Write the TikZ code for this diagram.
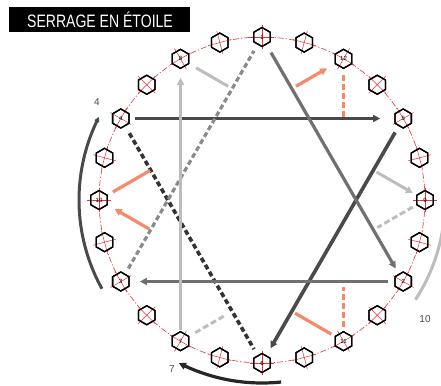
\documentclass[tikz,border=0pt]{standalone}
\usepackage{fontspec}
\setmainfont{Liberation Sans}
\usetikzlibrary{shapes.geometric,arrows.meta,calc}
\definecolor{boltred}{HTML}{E8303A}
\definecolor{darkln}{HTML}{4A4A4A}
\definecolor{darkdsh}{HTML}{333333}
\definecolor{midln}{HTML}{707070}
\definecolor{middsh}{HTML}{8A8A8A}
\definecolor{lightln}{HTML}{BDBDBD}
\definecolor{salmon}{HTML}{F48A6C}
\tikzset{
  bolt/.style={regular polygon, regular polygon sides=6, shape border rotate=30,
    minimum size=19pt, inner sep=0pt, draw=black, line width=1.3pt, fill=white,
    font=\fontsize{6}{6}\selectfont},
  tip/.style={-{Triangle[length=7pt,width=7pt]}},
  darkarrow/.style={darkln, line width=3.6pt, tip},
  darkdash/.style={darkdsh, line width=3.6pt, dash pattern=on 5pt off 3pt},
  midarrow/.style={midln, line width=3.2pt, tip},
  middash/.style={middsh, line width=3.2pt, dash pattern=on 5pt off 3pt},
  lightarrow/.style={lightln, line width=3pt},
  lightdash/.style={lightln, line width=3pt, dash pattern=on 6pt off 3pt},
  salmonline/.style={salmon, line width=3.2pt},
  salmondash/.style={salmon, line width=3.2pt, dash pattern=on 6pt off 3pt},
  arclabel/.style={text=darkln, font=\fontsize{10}{10}\selectfont, inner sep=0pt},
}
\begin{document}
\begin{tikzpicture}[x=1pt,y=-1pt]
\useasboundingbox (0,0) rectangle (441,385);
% title
\node[fill=black, minimum width=181pt, minimum height=25pt, inner sep=0pt, anchor=north west] (title) at (9,7) {};
\node[text=white, anchor=base, inner sep=0pt] (titletext) at (100,28) {\scalebox{0.78}[1]{\fontsize{18}{18}\selectfont SERRAGE EN ÉTOILE}};
% bolt circle
\draw[boltred, line width=0.6pt, dash pattern=on 6pt off 2pt on 1.2pt off 2pt] (262,200) circle[radius=163];
% bolt coordinates
\foreach \a in {0,15,...,345} {
  \coordinate (c\a) at ({262+163*cos(\a)},{200-163*sin(\a)});
}
% outer arcs
\draw[darkln, line width=3pt, -{Triangle[length=5pt,width=5pt]}] plot[domain=209:153, samples=40] ({262+183*cos(\x)},{200-183*sin(\x)});
\draw[black!85, line width=3.2pt, -{Triangle[length=7pt,width=7pt]}] plot[domain=276:243, samples=40] ({262+183*cos(\x)},{200-183*sin(\x)});
\draw[lightln, line width=3pt] plot[domain=-7:-33, samples=40] ({262+183*cos(\x)},{200-183*sin(\x)});
\node[arclabel] (lab4) at (97,102) {4};
\node[arclabel] (lab7) at (172,369) {7};
\node[arclabel] (lab10) at (425,319) {10};
% bolts (nodes)
\foreach \a in {15,45,...,345} {
  \node[bolt] (b\a) at (c\a) {};
}
\foreach \a/\n in {90/1,60/12,30/5,0/9,330/2,300/11,270/6,240/7,210/3,180/10,150/4,120/8} {
  \node[bolt] (b\a) at (c\a) {};
}
% connectors: dark triangle (4-5-6)
\draw[darkarrow] ($(b150.center)!14pt!(b30.center)$) -- ($(b30.center)!23pt!(b150.center)$);
\draw[darkarrow] ($(b30.center)!16pt!(b270.center)$) -- ($(b270.center)!17pt!(b30.center)$);
\draw[darkdash] ($(b150.center)!17pt!(b270.center)$) -- ($(b270.center)!16pt!(b150.center)$);
% mid triangle (1-2-3)
\draw[midarrow] ($(b90.center)!18pt!(b330.center)$) -- ($(b330.center)!15pt!(b90.center)$);
\draw[midarrow] ($(b330.center)!15pt!(b210.center)$) -- ($(b210.center)!19pt!(b330.center)$);
\draw[middash] ($(b210.center)!15pt!(b90.center)$) -- ($(b90.center)!16pt!(b210.center)$);
% light triangle (7-8-9)
\draw[lightarrow, tip] ($(b240.center)!11pt!(b120.center)$) -- ($(b120.center)!19pt!(b240.center)$);
\draw[lightarrow] ($(b120.center)!18pt!(b0.center)$) -- ($(b120.center)!55pt!(b0.center)$);
\draw[lightarrow, tip] ($(b0.center)!56pt!(b120.center)$) -- ($(b0.center)!14pt!(b120.center)$);
\draw[lightdash] ($(b0.center)!14pt!(b240.center)$) -- ($(b0.center)!55pt!(b240.center)$);
\draw[lightdash] ($(b240.center)!17pt!(b0.center)$) -- ($(b240.center)!52pt!(b0.center)$);
% salmon triangle (10-11-12)
\draw[salmonline] ($(b180.center)!16pt!(b60.center)$) -- ($(b180.center)!59pt!(b60.center)$);
\draw[salmonline, tip] ($(b60.center)!55pt!(b180.center)$) -- ($(b60.center)!19pt!(b180.center)$);
\draw[salmondash] ($(b60.center)!16pt!(b300.center)$) -- ($(b60.center)!58pt!(b300.center)$);
\draw[salmondash] ($(b300.center)!14pt!(b60.center)$) -- ($(b300.center)!54pt!(b60.center)$);
\draw[salmonline] ($(b300.center)!14pt!(b180.center)$) -- ($(b300.center)!56pt!(b180.center)$);
\draw[salmonline, tip] ($(b180.center)!58pt!(b300.center)$) -- ($(b180.center)!18pt!(b300.center)$);
% red crosshairs and hex outlines on top
\foreach \a in {0,15,...,345} {
  \draw[boltred, line width=0.5pt] ($(c\a)+({12*cos(\a)},{-12*sin(\a)})$) -- ($(c\a)+({-12*cos(\a)},{12*sin(\a)})$);
  \draw[boltred, line width=0.5pt] ($(c\a)+({12*sin(\a)},{12*cos(\a)})$) -- ($(c\a)+({-12*sin(\a)},{-12*cos(\a)})$);
  \node[bolt, fill=none] at (c\a) {};
}
\foreach \a/\n in {90/1,60/12,30/5,0/9,330/2,300/11,270/6,240/7,210/3,180/10,150/4,120/8} {
  \node[inner sep=0pt, font=\fontsize{6}{6}\selectfont] at (c\a) {\n};
}
\end{tikzpicture}
\end{document}
